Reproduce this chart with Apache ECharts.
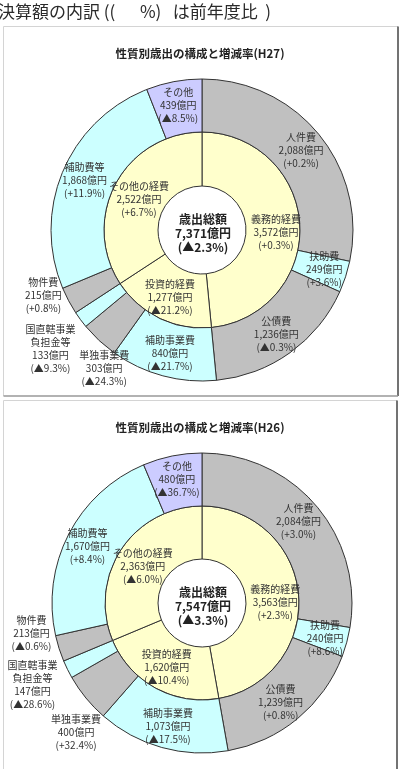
<!DOCTYPE html>
<html>
<head>
<meta charset="utf-8">
<script src="https://cdn.jsdelivr.net/npm/echarts@6/dist/echarts.min.js"></script>
<style>
html,body{margin:0;padding:0;background:#fff;}
#c{width:402px;height:769px;}
</style>
</head>
<body>
<div id="c"></div>
<script>
// ---- data ----
const headerText = '決算額の内訳 ((　  %)   は前年度比  )';
const panelTitles = ['性質別歳出の構成と増減率(H27)', '性質別歳出の構成と増減率(H26)'];
const totalLabel = '歳出総額';
const totals = [7371, 7547];
const totalRates = ['▲2.3%', '▲3.3%'];

const innerNames = ['義務的経費', '投資的経費', 'その他の経費'];
const innerH27 = [3572, 1277, 2522];
const innerRatesH27 = ['+0.3%', '▲21.2%', '+6.7%'];
const innerH26 = [3563, 1620, 2363];
const innerRatesH26 = ['+2.3%', '▲10.4%', '▲6.0%'];

const outerNames = ['人件費', '扶助費', '公債費', '補助事業費', '単独事業費', '国直轄事業\n負担金等', '物件費', '補助費等', 'その他'];
const outerH27 = [2088, 249, 1236, 840, 303, 133, 215, 1868, 439];
const outerRatesH27 = ['+0.2%', '+3.6%', '▲0.3%', '▲21.7%', '▲24.3%', '▲9.3%', '+0.8%', '+11.9%', '▲8.5%'];
const outerH26 = [2084, 240, 1239, 1073, 400, 147, 213, 1670, 480];
const outerRatesH26 = ['+3.0%', '+8.6%', '+0.8%', '▲17.5%', '+32.4%', '▲28.6%', '▲0.6%', '+8.4%', '▲36.7%'];

// ---- styles / layout ----
const C_GRAY = '#c0c0c0', C_BLUE = '#ccffff', C_LAV = '#ccccff', C_YEL = '#ffffcc';
const outerColors = [C_GRAY, C_BLUE, C_GRAY, C_BLUE, C_GRAY, C_BLUE, C_GRAY, C_BLUE, C_LAV];
const innerOffsets = [[0, 6], [0, 0], [2, 4]];
const outerOffsets27 = [[0, 0], [1, 0], [0, 1], [1, 0], [-11, 45], [-49, 43], [-46, 5], [0, 0], [0, 0]];
const outerOffsets26 = [[0, 0], [1, 2], [-2, 2], [0, 1], [-28, 49], [-56, 26], [-50, -8], [-2, 1], [0, 0]];
const FONT = '"Noto Sans CJK JP", "Noto Sans", sans-serif';

function fmt(v) { return v.toLocaleString('en-US'); }

function makeData(names, values, rates, colors, offsets) {
  return names.map((n, i) => ({
    name: n,
    value: values[i],
    rate: rates[i],
    itemStyle: { color: colors[i] },
    label: { offset: offsets[i] }
  }));
}

const labelStyle = {
  show: true,
  position: 'inside',
  fontFamily: FONT,
  fontSize: 10,
  lineHeight: 13,
  color: '#333',
  formatter: p => p.name + '\n' + fmt(p.value) + '億円\n(' + p.data.rate + ')'
};

function pieSeries(center, radius, data) {
  return {
    type: 'pie',
    center: center,
    radius: radius,
    startAngle: 90,
    clockwise: true,
    avoidLabelOverlap: false,
    silent: true,
    label: labelStyle,
    labelLine: { show: false },
    itemStyle: { borderColor: '#333', borderWidth: 1 },
    emphasis: { disabled: true },
    data: data
  };
}

const centers = [[202, 230], [202, 603]];

const series = [
  pieSeries(centers[0], [44, 98], makeData(innerNames, innerH27, innerRatesH27, innerNames.map(() => C_YEL), innerOffsets)),
  pieSeries(centers[0], [98, 151], makeData(outerNames, outerH27, outerRatesH27, outerColors, outerOffsets27)),
  pieSeries(centers[1], [44, 97], makeData(innerNames, innerH26, innerRatesH26, innerNames.map(() => C_YEL), innerOffsets)),
  pieSeries(centers[1], [97, 150], makeData(outerNames, outerH26, outerRatesH26, outerColors, outerOffsets26))
];

function panel(top, bottom, left, right) {
  return [
    { type: 'line', shape: { x1: left, y1: top, x2: right, y2: top }, style: { stroke: '#d4d4d4', lineWidth: 1 } },
    { type: 'line', shape: { x1: left, y1: top, x2: left, y2: bottom }, style: { stroke: '#d4d4d4', lineWidth: 1 } },
    { type: 'line', shape: { x1: right, y1: top, x2: right, y2: bottom }, style: { stroke: '#444', lineWidth: 1.5 } },
    { type: 'line', shape: { x1: left, y1: bottom, x2: right, y2: bottom }, style: { stroke: '#999', lineWidth: 1.5 } }
  ];
}

const centerTextStyle = { font: 'bold 12px ' + FONT, lineHeight: 14, fill: '#222', textAlign: 'center', textVerticalAlign: 'middle' };

const graphics = [
  { type: 'text', left: -2, top: 3, style: { text: headerText, font: '17px ' + FONT, fill: '#2a2a2a' } },
  ...panel(26.5, 396, 3.5, 398),
  ...panel(400.5, 770, 3.5, 397),
  { type: 'text', x: 200, y: 54, style: { text: panelTitles[0], font: 'bold 11.5px ' + FONT, fill: '#222', textAlign: 'center', textVerticalAlign: 'middle' } },
  { type: 'text', x: 200, y: 428, style: { text: panelTitles[1], font: 'bold 11.5px ' + FONT, fill: '#222', textAlign: 'center', textVerticalAlign: 'middle' } },
  { type: 'text', x: centers[0][0] + 1, y: centers[0][1] + 3, z: 100, style: Object.assign({ text: totalLabel + '\n' + fmt(totals[0]) + '億円\n(' + totalRates[0] + ')' }, centerTextStyle) },
  { type: 'text', x: centers[1][0] + 1, y: centers[1][1] + 3, z: 100, style: Object.assign({ text: totalLabel + '\n' + fmt(totals[1]) + '億円\n(' + totalRates[1] + ')' }, centerTextStyle) }
];

const chart = echarts.init(document.getElementById('c'), null, { renderer: 'canvas' });
chart.setOption({
  animation: false,
  backgroundColor: '#fff',
  series: series,
  graphic: graphics
});
</script>
</body>
</html>
